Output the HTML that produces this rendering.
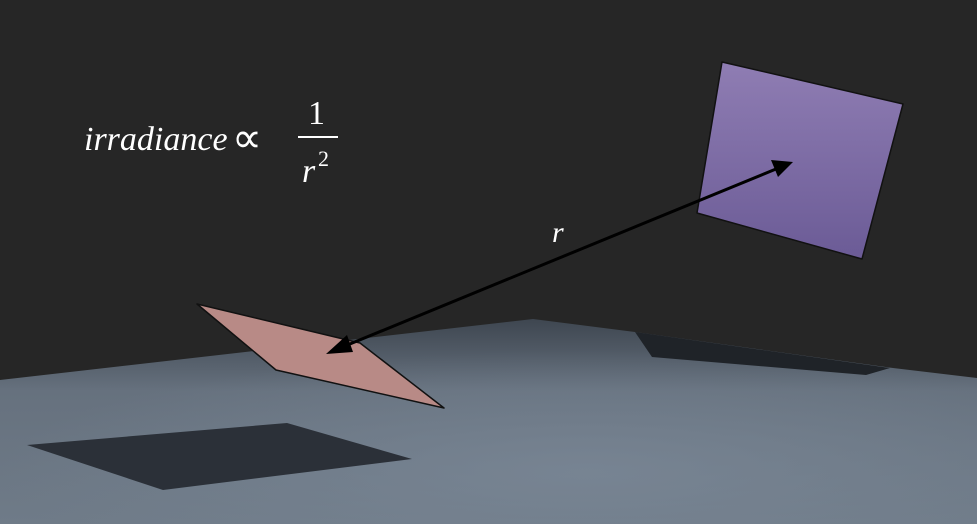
<!DOCTYPE html>
<html><head><meta charset="utf-8"><style>
html,body{margin:0;padding:0;background:#262626;}
svg{display:block}
</style></head><body>
<svg width="977" height="524" viewBox="0 0 977 524" xmlns="http://www.w3.org/2000/svg">
<defs>
<linearGradient id="floorG" x1="0" y1="0" x2="0" y2="1">
<stop offset="0" stop-color="#3e4650"/><stop offset="0.35" stop-color="#66717e"/><stop offset="1" stop-color="#6f7b88"/>
</linearGradient>
<radialGradient id="floorR" cx="0.6" cy="0.75" r="0.6">
<stop offset="0" stop-color="#7a8796" stop-opacity="0.8"/><stop offset="1" stop-color="#7a8796" stop-opacity="0"/>
</radialGradient>
<linearGradient id="purpG" x1="0" y1="0" x2="0" y2="1">
<stop offset="0" stop-color="#8f7db3"/><stop offset="1" stop-color="#6b5b96"/>
</linearGradient>
</defs>
<rect x="0" y="0" width="977" height="524" fill="#262626"/>
<polygon points="0,380 533,319 635,332 893,368 977,378 977,524 0,524" fill="url(#floorG)"/>
<polygon points="0,380 533,319 635,332 893,368 977,378 977,524 0,524" fill="url(#floorR)"/>
<polygon points="635,332 652,357 866,375 890,368" fill="#1f2328"/>
<polygon points="27,445 287,423 412,459 163,490" fill="#2b3038"/>
<polygon points="197,304 360,343 444,408 276,370" fill="#b88a86" stroke="#111" stroke-width="1.5" stroke-linejoin="round"/>
<polygon points="722,62 903,104 862,259 697,213" fill="url(#purpG)" stroke="#111" stroke-width="1.5" stroke-linejoin="round"/>
<g>
<line x1="345" y1="346" x2="776" y2="169" stroke="#000" stroke-width="3"/>
<polygon points="326,354 347,335 353,352" fill="#000"/>
<polygon points="793,162 771,160 778,177" fill="#000"/>
</g>
<text x="552" y="242" font-family="Liberation Serif, serif" font-style="italic" font-size="30" fill="#fff">r</text>
<g font-family="Liberation Serif, serif" fill="#fff">
<text x="84" y="150" font-size="34" font-style="italic">irradiance</text>
<text x="232" y="152" font-size="42">∝</text>
<text x="308" y="124" font-size="34">1</text>
<rect x="298" y="136" width="40" height="2" fill="#fff"/>
<text x="302" y="182" font-size="34" font-style="italic">r</text>
<text x="318" y="166" font-size="22">2</text>
</g>
</svg>
</body></html>
